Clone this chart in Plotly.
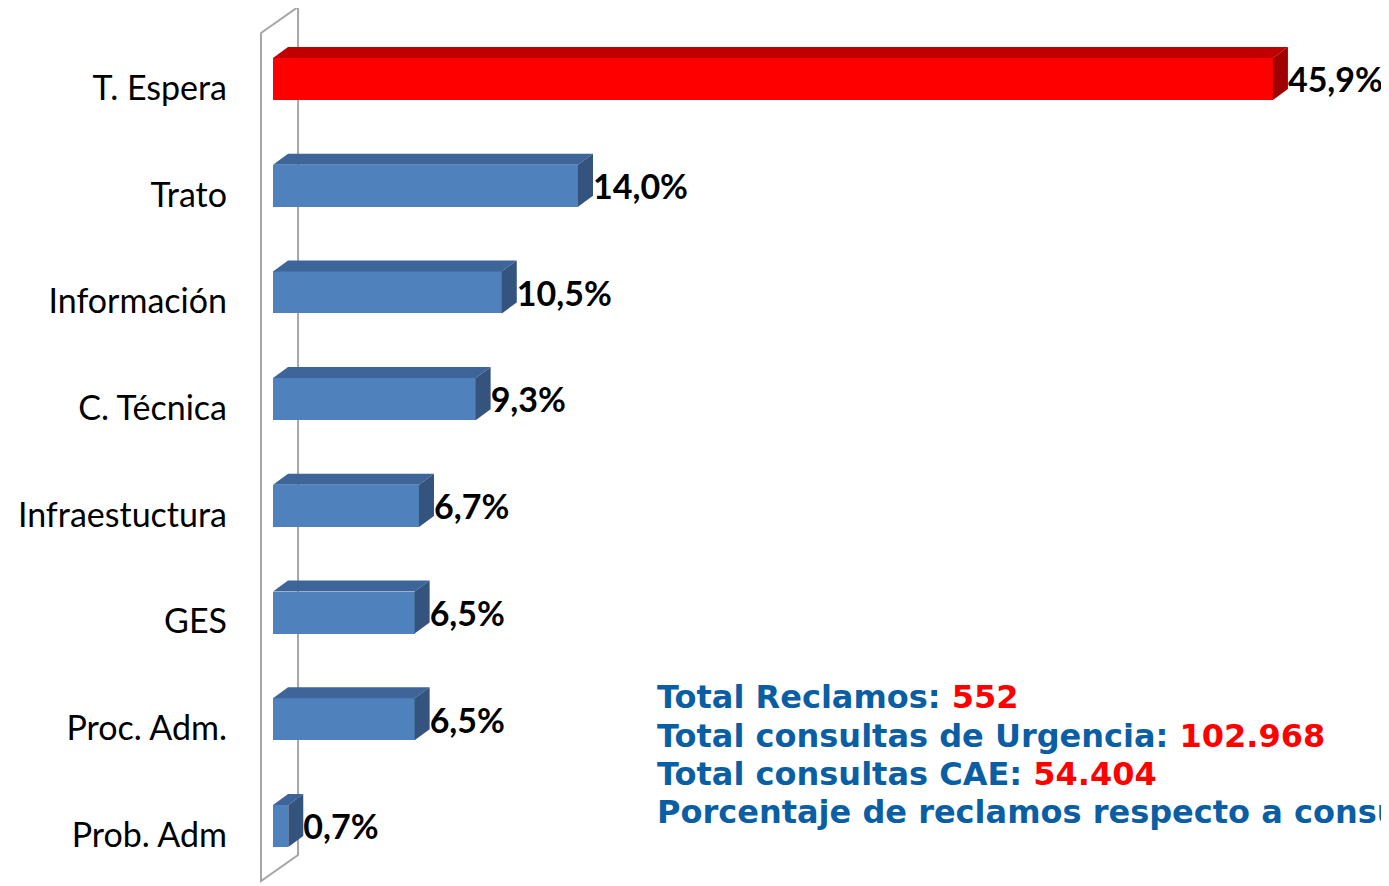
import plotly.graph_objects as go

# data
categories = ["T. Espera", "Trato", "Información", "C. Técnica",
              "Infraestuctura", "GES", "Proc. Adm.", "Prob. Adm"]
values = [45.9, 14.0, 10.5, 9.3, 6.7, 6.5, 6.5, 0.7]

summary_labels = ["Total Reclamos: ", "Total consultas de Urgencia: ",
                  "Total consultas CAE: ", "Porcentaje de reclamos respecto a consultas: "]
summary_values = ["552", "102.968", "54.404", "0,35%"]

# look of the fake 3d bars
front = ["#FF0000"] + ["#4F81BD"] * 7
top = ["#C00000"] + ["#3D6599"] * 7
side = ["#A00000"] + ["#34547E"] * 7
bar_w = 0.394
dx, dy = 0.69, 0.103   # depth offset in data units

pos = list(range(len(categories)))

fig = go.Figure()
fig.add_trace(go.Bar(x=values, y=pos, orientation="h", width=bar_w,
                     marker=dict(color=front, line=dict(width=0)),
                     hoverinfo="skip"))

for i, v in enumerate(values):
    y0 = i - bar_w / 2
    y1 = i + bar_w / 2
    # top face
    fig.add_trace(go.Scatter(x=[0, v, v + dx, dx, 0], y=[y0, y0, y0 - dy, y0 - dy, y0],
                             fill="toself", fillcolor=top[i], mode="none",
                             hoverinfo="skip"))
    # right side face
    fig.add_trace(go.Scatter(x=[v, v + dx, v + dx, v, v], y=[y0, y0 - dy, y1 - dy, y1, y0],
                             fill="toself", fillcolor=side[i], mode="none",
                             hoverinfo="skip"))

# value labels
fig.add_trace(go.Scatter(x=[v + dx for v in values], y=[p + 0.045 for p in pos],
                         mode="text", textposition="middle right",
                         text=[f"{v:.1f}%".replace(".", ",") for v in values],
                         textfont=dict(family="Lato", size=34, color="black", weight="bold"),
                         hoverinfo="skip", cliponaxis=False))

# the left side wall of the 3d chart
wx0, wx1 = -0.55, 1.15
wall = (f"M {wx0},{-0.431} L {wx1},{-0.675} L {wx1},{7.272} L {wx0},{7.516} Z")
fig.add_shape(type="path", path=wall, xref="x", yref="y",
              line=dict(color="#A6A6A6", width=2), fillcolor="rgba(0,0,0,0)", layer="below")

# summary text box
line_y = [0.2153, 0.1708, 0.1276, 0.0843]
for lab, val, yy in zip(summary_labels, summary_values, line_y):
    fig.add_annotation(xref="paper", yref="paper", x=0.3612, y=yy, xanchor="left", yanchor="middle",
                       showarrow=False,
                       text=f"<span style='color:#0A5EA3'>{lab}</span><span style='color:#FF0000'>{val}</span>",
                       font=dict(family="DejaVu Sans", size=32, weight="bold"))

# page body has an 8px margin, so the figure is 8px smaller than the window
fig.update_layout(
    width=1381, height=878,
    margin=dict(l=232, r=0, t=0, b=0),
    plot_bgcolor="white", paper_bgcolor="white",
    showlegend=False,
    bargap=0,
)
fig.update_xaxes(range=[-1.515, 51.23], visible=False, fixedrange=True)
fig.update_yaxes(range=[7.562, -0.665], tickvals=pos, ticktext=categories,
                 showgrid=False, zeroline=False, showline=False, ticks="",
                 ticklabelshift=-9, ticklabelstandoff=12,
                 tickfont=dict(family="Lato", size=34, color="black"))

fig.write_html("out.html")
